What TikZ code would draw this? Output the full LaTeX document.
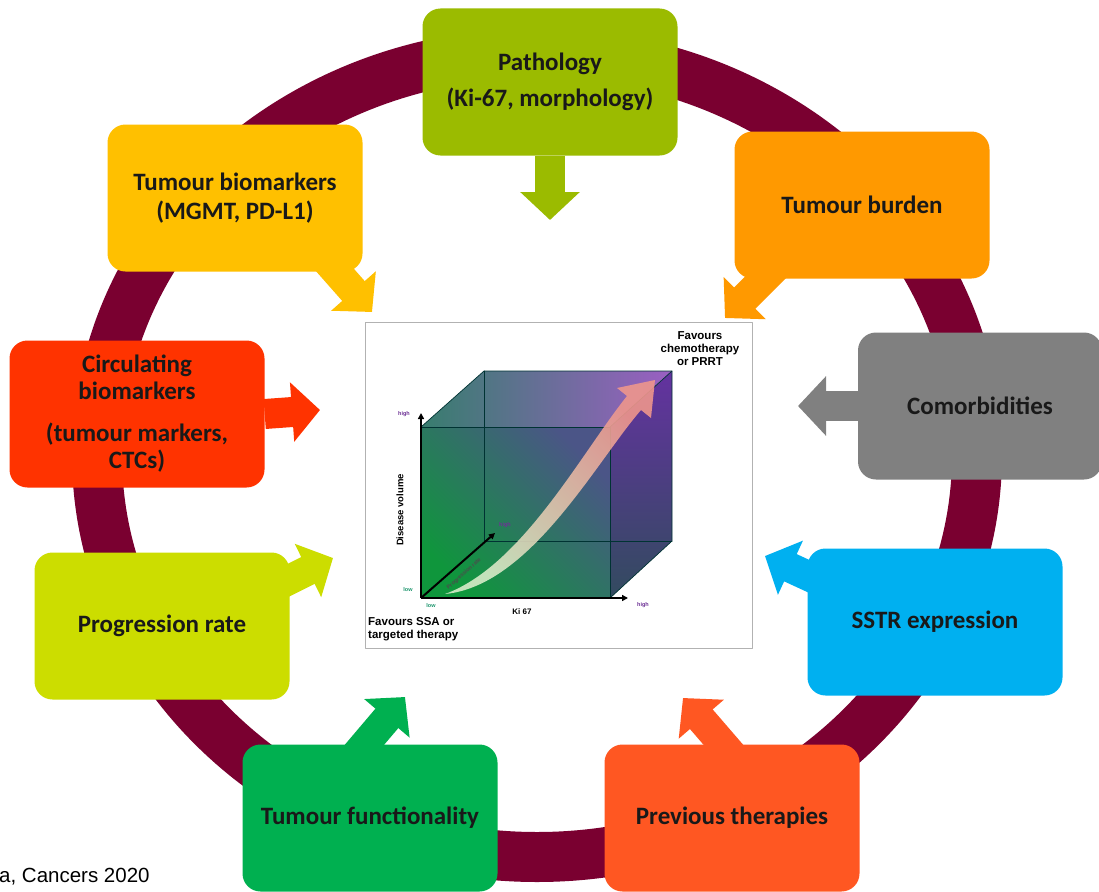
\documentclass[tikz,border=0pt]{standalone}
\usepackage{fontspec}
\setmainfont{Carlito}
\newfontfamily\arialfont{Liberation Sans}
\usepackage{xcolor}
\usetikzlibrary{arrows.meta,backgrounds}

\definecolor{ringcol}{RGB}{122,0,48}
\definecolor{pathocol}{RGB}{155,187,0}
\definecolor{tbiocol}{RGB}{255,192,0}
\definecolor{tburdcol}{RGB}{255,153,0}
\definecolor{circcol}{RGB}{255,51,0}
\definecolor{comorcol}{RGB}{128,128,128}
\definecolor{progcol}{RGB}{204,221,0}
\definecolor{sstrcol}{RGB}{0,176,240}
\definecolor{tfuncol}{RGB}{0,176,80}
\definecolor{prevcol}{RGB}{255,87,34}
\definecolor{lowcol}{RGB}{30,150,110}
\definecolor{highcol}{RGB}{110,50,150}
\definecolor{cubegreen}{RGB}{15,150,60}
\definecolor{cubeblue}{RGB}{75,85,135}
\definecolor{topteal}{RGB}{55,125,110}
\definecolor{toppurple}{RGB}{155,95,195}
\definecolor{sideviolet}{RGB}{100,50,160}
\definecolor{sideslate}{RGB}{50,75,95}
\definecolor{trendlight}{RGB}{215,235,200}
\definecolor{trendsalmon}{RGB}{238,150,140}

\tikzset{
  factorbox/.style={rounded corners=18pt,minimum width=255pt,minimum height=147pt,inner sep=0pt,
    align=center,text=black!90,font=\bfseries\fontsize{25}{27}\selectfont},
  blockarrow/.style={line width=30pt,line cap=butt,-{Triangle[length=28pt,width=58pt]}},
  axisarrow/.style={line width=2pt,line cap=butt,-{Triangle[length=6pt,width=6pt]}},
  cubeedge/.style={line width=0.7pt,draw=black!60!teal},
  tinylabel/.style={inner sep=0pt,font=\arialfont\bfseries\fontsize{5.5}{6}\selectfont},
  chartlabel/.style={inner sep=0pt,font=\arialfont\bfseries\fontsize{11.5}{13}\selectfont},
  citetext/.style={inner sep=0pt,font=\arialfont\fontsize{20.5}{22}\selectfont}
}

\begin{document}
\begin{tikzpicture}[line cap=round,line join=round,x=1pt,y=-1pt]
\useasboundingbox (0,0) rectangle (1099,891);

\node[factorbox,fill=pathocol] (patho) at (550,82) {Pathology\\[9pt](Ki-67, morphology)};
\node[factorbox,fill=tbiocol] (tbio) at (235,198) {Tumour biomarkers\\[2pt](MGMT, PD-L1)};
\node[factorbox,fill=tburdcol] (tburd) at (862,205) {Tumour burden};
\node[factorbox,fill=circcol] (circ) at (137,414) {Circulating\\biomarkers\\[15pt](tumour markers,\\CTCs)};
\node[factorbox,fill=comorcol,minimum width=244pt] (comor) at (980,406) {Comorbidities};
\node[factorbox,fill=progcol] (prog) at (162,626) {Progression rate};
\node[factorbox,fill=sstrcol] (sstr) at (935,622) {SSTR expression};
\node[factorbox,fill=tfuncol] (tfun) at (370,818) {Tumour functionality};
\node[factorbox,fill=prevcol] (prev) at (732,818) {Previous therapies};

\coordinate (pathotip) at (550,220);
\coordinate (tbiotip) at (372,312);
\coordinate (tburdtip) at (725,318);
\coordinate (circtip) at (320,410);
\coordinate (comortip) at (798,406);
\coordinate (progtip) at (333,558);
\coordinate (sstrtip) at (765,556);
\coordinate (tfuntip) at (405,697);
\coordinate (prevtip) at (683,698);

\begin{scope}[on background layer]
  \fill[white] (0,0) rectangle (1099,891);
  \draw[line width=50pt,draw=ringcol] (537,455) ellipse [x radius=440,y radius=402];
  \draw[blockarrow,draw=pathocol] (patho.south) -- (pathotip);
  \draw[blockarrow,draw=tbiocol,shorten <=-16pt] (tbio.-36) -- (tbiotip);
  \draw[blockarrow,draw=tburdcol,shorten <=-16pt] (tburd.-143) -- (tburdtip);
  \draw[blockarrow,draw=circcol] (circ.east) -- (circtip);
  \draw[blockarrow,draw=comorcol] (comor.west) -- (comortip);
  \draw[blockarrow,draw=progcol,shorten <=-16pt] (prog.20) -- (progtip);
  \draw[blockarrow,draw=sstrcol,shorten <=-16pt] (sstr.160) -- (sstrtip);
  \draw[blockarrow,draw=tfuncol,shorten <=-16pt] (tfun.94) -- (tfuntip);
  \draw[blockarrow,draw=prevcol,shorten <=-16pt] (prev.97) -- (prevtip);
\end{scope}

\draw[line width=1pt,draw=black!30,fill=white] (365,322) rectangle (752,648);

\coordinate (o) at (421,598);
\coordinate (fx) at (610,598);
\coordinate (fxy) at (610,427);
\coordinate (fy) at (421,427);
\coordinate (b) at (484,541);
\coordinate (bx) at (672,541);
\coordinate (bxy) at (672,371);
\coordinate (by) at (484,371);

\shade[bottom color=cubegreen,top color=cubeblue,shading angle=-45] (o) -- (fx) -- (fxy) -- (fy) -- cycle;
\shade[left color=topteal,right color=toppurple] (fy) -- (fxy) -- (bxy) -- (by) -- cycle;
\shade[top color=sideviolet,bottom color=sideslate] (fx) -- (bx) -- (bxy) -- (fxy) -- cycle;
\draw[cubeedge] (o) -- (fx) -- (fxy) -- (fy) -- cycle;
\draw[cubeedge] (fy) -- (by) -- (bxy) -- (bx) -- (fx);
\draw[cubeedge] (fxy) -- (bxy);
\draw[cubeedge] (by) -- (b) -- (bx);

\shade[opacity=0.9,bottom color=trendlight,top color=trendsalmon,shading angle=-45]
  (445,594) .. controls (530,586) and (596,462) .. (641,410) -- (651,418) -- (655,380)
  -- (617,388) -- (627,396) .. controls (582,452) and (522,566) .. (445,594) -- cycle;

\coordinate (vtip) at (421,413);
\coordinate (htip) at (628,598);
\coordinate (dtip) at (495,533);
\draw[axisarrow] (o) -- (vtip);
\draw[axisarrow] (o) -- (htip);
\draw[axisarrow] (o) -- (dtip);

\node[tinylabel,text=highcol] (vhigh) at (404,414) {high};
\node[tinylabel,text=lowcol] (vlow) at (408,590) {low};
\node[tinylabel,text=lowcol] (hlow) at (431,606) {low};
\node[tinylabel,text=highcol] (hhigh) at (643,605) {high};
\node[tinylabel,text=highcol] (dhigh) at (505,525) {high};
\node[tinylabel,text=black!70,rotate=42] (dlab) at (464,574) {Progression rate};
\node[inner sep=0pt,font=\arialfont\bfseries\fontsize{8}{9}\selectfont] (kilab) at (522,612) {Ki 67};
\node[inner sep=0pt,rotate=90,font=\arialfont\bfseries\fontsize{9.5}{10}\selectfont] (dvlab) at (400,510) {Disease volume};
\node[chartlabel,align=left,anchor=west] (ssalab) at (368,629) {Favours SSA or\\targeted therapy};
\node[chartlabel,align=center] (chemolab) at (700,349) {Favours\\chemotherapy\\or PRRT};

\node[citetext,anchor=west] (cite) at (-1,877) {a, Cancers 2020};
\end{tikzpicture}
\end{document}
